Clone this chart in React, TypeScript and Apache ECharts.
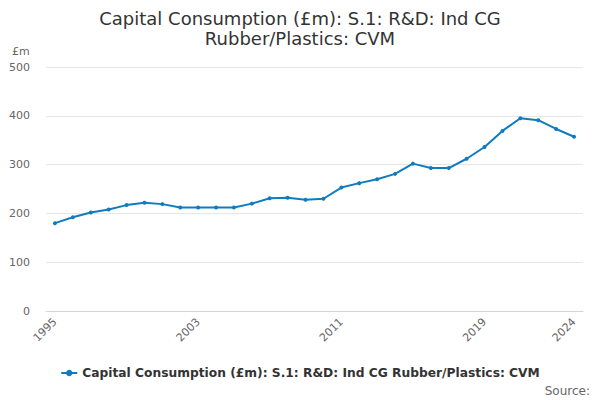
import React, { useEffect, useRef } from "react";
import * as echarts from "echarts";

const years: string[] = [
  "1995", "1996", "1997", "1998", "1999", "2000", "2001", "2002", "2003", "2004",
  "2005", "2006", "2007", "2008", "2009", "2010", "2011", "2012", "2013", "2014",
  "2015", "2016", "2017", "2018", "2019", "2020", "2021", "2022", "2023", "2024",
];
const values: number[] = [
  180, 192, 202, 208, 217, 222, 219, 212, 212, 212,
  212, 220, 231, 232, 228, 230, 253, 262, 270, 281,
  302, 293, 293, 312, 336, 369, 395, 391, 373, 357,
];
const seriesName = "Capital Consumption (£m): S.1: R&D: Ind CG Rubber/Plastics: CVM";
const titleText = "Capital Consumption (£m): S.1: R&D: Ind CG\nRubber/Plastics: CVM";
const FONT = "DejaVu Sans";

export default function App() {
  const ref = useRef<HTMLDivElement>(null);
  useEffect(() => {
    document.body.style.margin = "0";
    if (!ref.current) return;
    const chart = echarts.init(ref.current, undefined, { renderer: "svg" });
    const last = years.length - 1;
    chart.setOption({
      animation: false,
      backgroundColor: "#ffffff",
      textStyle: { fontFamily: FONT },
      title: {
        text: titleText,
        left: "center",
        top: 3,
        textStyle: { fontFamily: FONT, fontSize: 18, fontWeight: "normal", color: "#333333", lineHeight: 20 },
      },
      grid: { left: 46, right: 17, top: 67, bottom: 89, containLabel: false },
      xAxis: {
        type: "category",
        data: years,
        boundaryGap: true,
        axisLine: { lineStyle: { color: "#ccd6eb", width: 1 } },
        axisTick: {
          alignWithLabel: true,
          length: 10,
          lineStyle: { color: "#ccd6eb" },
          interval: (i: number) => i % 2 === 0 || i === last,
        },
        axisLabel: {
          interval: (i: number) => i % 8 === 0 || i === last,
          rotate: 45,
          color: "#666666",
          fontSize: 11,
          fontFamily: FONT,
          margin: 9,
        },
        splitLine: { show: false },
      },
      yAxis: {
        type: "value",
        min: 0,
        max: 500,
        interval: 100,
        axisLine: { show: false },
        axisTick: { show: false },
        axisLabel: { color: "#666666", fontSize: 11, fontFamily: FONT, margin: 16 },
        splitLine: { lineStyle: { color: "#e6e6e6", width: 1 } },
      },
      legend: {
        bottom: 16,
        left: "center",
        itemWidth: 16,
        itemHeight: 8,
        textStyle: { color: "#333333", fontSize: 12.25, fontWeight: "bold", fontFamily: FONT },
        data: [seriesName],
      },
      graphic: [
        {
          type: "text",
          left: 12,
          top: 46,
          style: { text: "£m", fill: "#666666", fontSize: 11, fontFamily: FONT },
        },
        {
          type: "text",
          right: 10,
          top: 385,
          style: { text: "Source:", fill: "#666666", fontSize: 12, fontFamily: FONT },
        },
      ],
      series: [
        {
          name: seriesName,
          type: "line",
          data: values,
          color: "#0f7cc0",
          lineStyle: { width: 2, color: "#0f7cc0" },
          symbol: "circle",
          symbolSize: 4,
          itemStyle: { color: "#0f7cc0" },
        },
      ],
    });
    return () => chart.dispose();
  }, []);
  return <div ref={ref} style={{ width: 600, height: 400 }} />;
}
